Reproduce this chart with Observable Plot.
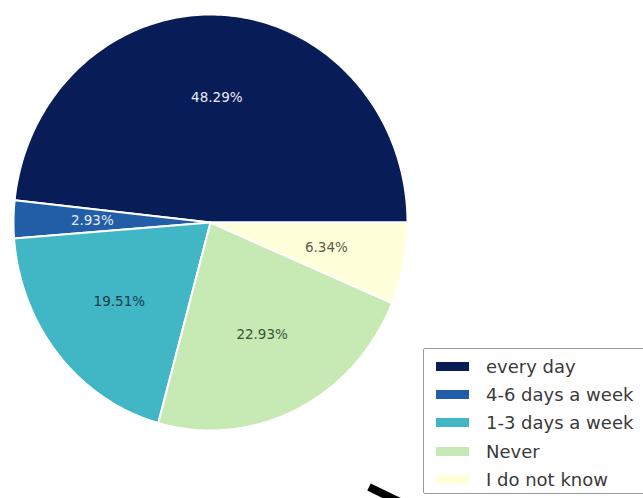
<!DOCTYPE html>
<html>
<head>
<meta charset="utf-8">
<script src="https://cdn.jsdelivr.net/npm/d3@7"></script>
<script src="https://cdn.jsdelivr.net/npm/@observablehq/plot@0.6"></script>
<style>
  html, body { margin: 0; padding: 0; background: #fff; }
  #wrap { position: relative; width: 643px; height: 498px; overflow: hidden; font-family: "DejaVu Sans", sans-serif; }
  #legend { position: absolute; left: 423px; top: 348px; width: 240px; height: 146px; border: 1.5px solid #9a9a9a; border-radius: 2px; box-sizing: border-box; background: #fff; }
  .row { position: absolute; left: 0; height: 28px; display: flex; align-items: center; }
  .sw { width: 33px; height: 9px; margin-left: 12px; margin-right: 17px; }
  .lab { font-size: 18px; color: #3a3a3a; white-space: nowrap; }
  #mark { position: absolute; left: 0; top: 0; pointer-events: none; }
</style>
</head>
<body>
<div id="wrap"></div>
<script>
const labels = ["every day", "4-6 days a week", "1-3 days a week", "Never", "I do not know"];
const shares = [48.29, 2.93, 19.51, 22.93, 6.34];
const colors = ["#081d58", "#225ea8", "#41b6c4", "#c7e9b4", "#ffffd9"];
const textColors = ["#e8ecf5", "#e8ecf5", "#1d3a4a", "#3b553b", "#5a5a48"];

const total = d3.sum(shares);
// angles counterclockwise from east (matplotlib default)
let acc = 0;
const slices = labels.map((label, i) => {
  const a0 = acc / total * 2 * Math.PI;
  acc += shares[i];
  const a1 = acc / total * 2 * Math.PI;
  return {label, share: shares[i], color: colors[i], textColor: textColors[i], a0, a1};
});

// polygon outline of each wedge (geometric arc sampling)
const pts = [];
for (const s of slices) {
  pts.push({label: s.label, color: s.color, x: 0, y: 0});
  const n = Math.max(2, Math.ceil((s.a1 - s.a0) / (Math.PI / 180)));
  for (let k = 0; k <= n; k++) {
    const a = s.a0 + (s.a1 - s.a0) * k / n;
    pts.push({label: s.label, color: s.color, x: Math.cos(a), y: Math.sin(a)});
  }
}
const labelPts = slices.map(s => {
  const m = (s.a0 + s.a1) / 2;
  return {text: s.share.toFixed(2) + "%", color: s.textColor, x: 0.6 * Math.cos(m), y: 0.6 * Math.sin(m)};
});

const chart = Plot.plot({
  width: 643,
  height: 498,
  margin: 0,
  x: {domain: [-1, 1], range: [13, 407], axis: null},
  y: {domain: [-1, 1], range: [430, 14], axis: null},
  color: {type: "identity"},
  style: {background: "transparent"},
  marks: [
    Plot.line(pts, {x: "x", y: "y", z: "label", fill: "color", stroke: "white", strokeWidth: 2, curve: "linear-closed", strokeLinejoin: "round"}),
    Plot.text(labelPts, {x: "x", y: "y", text: "text", fill: "color", fontSize: 13.5, fontFamily: "DejaVu Sans", letterSpacing: 0.5})
  ]
});
const wrap = document.getElementById("wrap");
wrap.appendChild(chart);

// legend
const leg = document.createElement("div");
leg.id = "legend";
labels.forEach((l, i) => {
  const r = document.createElement("div");
  r.className = "row";
  r.style.top = (3 + i * 28.4) + "px";
  const sw = document.createElement("div");
  sw.className = "sw";
  sw.style.background = colors[i];
  const t = document.createElement("span");
  t.className = "lab";
  t.textContent = l;
  r.appendChild(sw); r.appendChild(t);
  leg.appendChild(r);
});
wrap.appendChild(leg);

// decorative black stroke at the bottom edge
const ns = "http://www.w3.org/2000/svg";
const ov = document.createElementNS(ns, "svg");
ov.setAttribute("id", "mark");
ov.setAttribute("width", 643);
ov.setAttribute("height", 498);
const ln = document.createElementNS(ns, "line");
ln.setAttribute("x1", 369); ln.setAttribute("y1", 487);
ln.setAttribute("x2", 404); ln.setAttribute("y2", 504);
ln.setAttribute("stroke", "#000"); ln.setAttribute("stroke-width", 8);
ov.appendChild(ln);
wrap.appendChild(ov);
</script>
</body>
</html>
